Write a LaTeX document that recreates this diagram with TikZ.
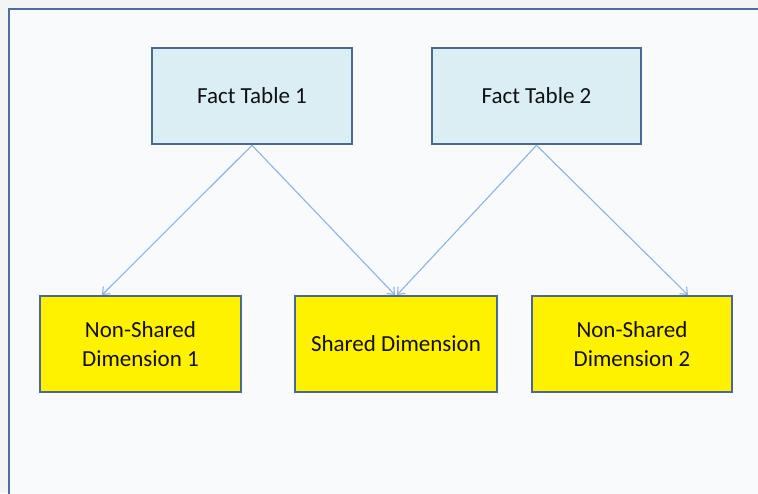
\documentclass[tikz,border=0pt]{standalone}
\usepackage{fontspec}
\setmainfont{Carlito}
\usetikzlibrary{arrows.meta,calc}
\definecolor{pagebg}{HTML}{F3F4F5}
\definecolor{innerbg}{HTML}{F8FAFC}
\definecolor{framecol}{HTML}{4F6D96}
\definecolor{factfill}{HTML}{DBEEF4}
\definecolor{boxline}{HTML}{4A6A94}
\definecolor{arrowcol}{HTML}{8DB3E2}
\definecolor{textcol}{HTML}{111111}
\tikzset{
  facttab/.style={draw=boxline, line width=2.6pt, fill=factfill, minimum width=200pt, minimum height=96pt, inner sep=0pt, align=center, text=textcol, font=\fontsize{23}{28.5}\selectfont},
  dimbox/.style={draw=boxline, line width=2pt, fill=yellow, minimum width=200pt, minimum height=96pt, inner sep=0pt, align=center, text=textcol, font=\fontsize{23}{28.5}\selectfont},
  link/.style={draw=arrowcol, line width=1.1pt, -{Straight Barb[length=6pt,width=10pt,line width=1.1pt]}}
}
\begin{document}
\begin{tikzpicture}[x=1pt,y=-1pt]
\useasboundingbox (0,0) rectangle (758,493);
\clip (0,0) rectangle (758,493);
\fill[pagebg] (0,0) rectangle (758,493);
\draw[draw=framecol, fill=innerbg, line width=2.4pt] (9,9) rectangle (800,540);
\node[facttab] (ft1) at (252,96) {Fact Table 1};
\node[facttab, minimum width=209pt] (ft2) at (536.5,96) {Fact Table 2};
\node[dimbox, minimum width=201pt] (nd1) at (140.5,344) {Non-Shared\\Dimension 1};
\node[dimbox, minimum width=202pt] (sd) at (396,344) {Shared Dimension};
\node[dimbox] (nd2) at (632,344) {Non-Shared\\Dimension 2};
\draw[link] (ft1.south) -- ($(nd1.north)+(-38.5,0)$);
\draw[link] (ft1.south) -- ($(sd.north)+(-1,0)$);
\draw[link] (ft2.south) -- ($(sd.north)+(1,0)$);
\draw[link] (ft2.south) -- ($(nd2.north)+(56,0)$);
\end{tikzpicture}
\end{document}
